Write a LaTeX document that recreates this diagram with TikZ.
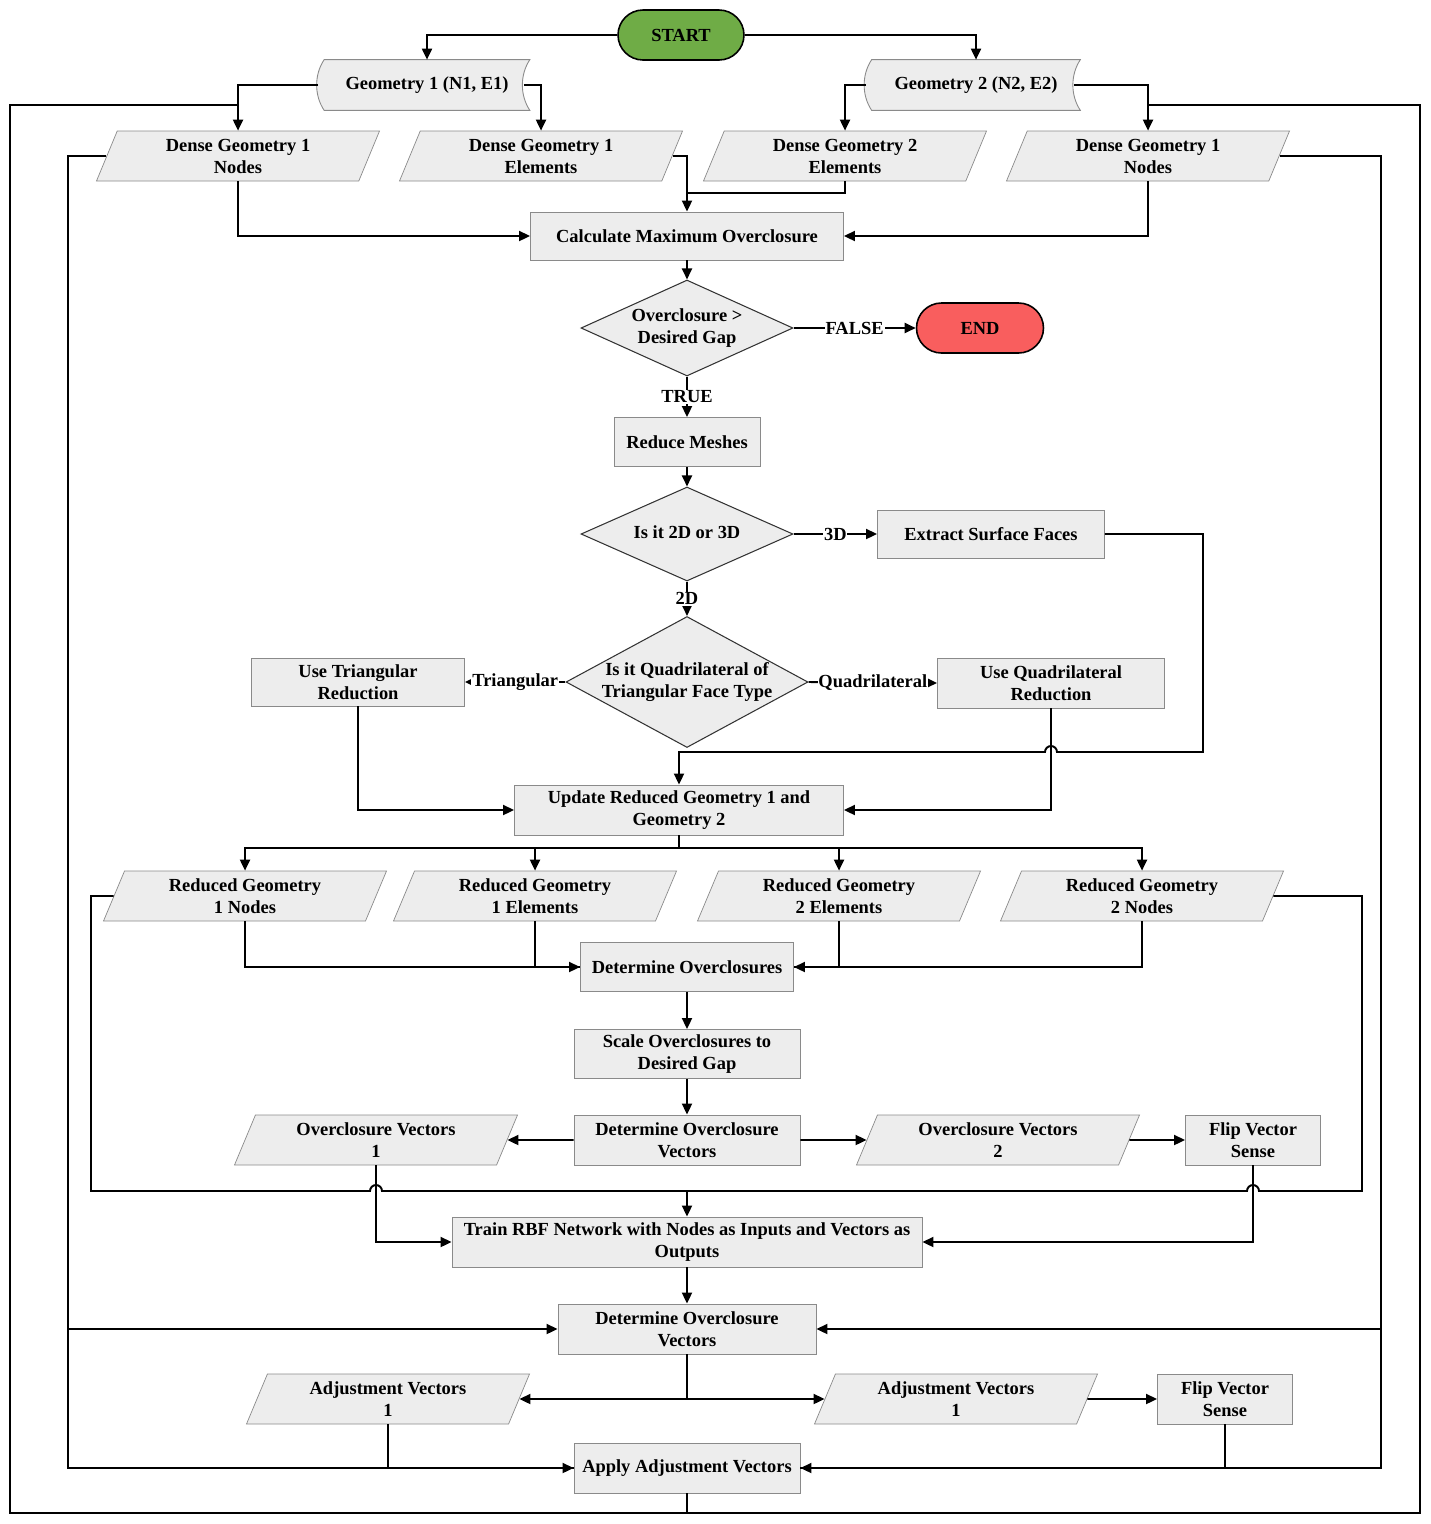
\documentclass[tikz,border=0pt]{standalone}
\usepackage{fontspec}
\setmainfont{Liberation Serif}
\usepackage{tikz}
\usetikzlibrary{shapes.geometric, shapes.misc, arrows.meta, calc, backgrounds}
\definecolor{boxfill}{HTML}{EDEDED}
\definecolor{boxline}{HTML}{8A8A8A}
\definecolor{go}{HTML}{6FAC46}
\definecolor{stop}{HTML}{F95E5E}
\newcommand{\dtext}[1]{\makebox[0pt]{\begin{tabular}{@{}c@{}}#1\end{tabular}}}
\tikzset{
  lbl/.style    = {align=center, font=\fontsize{10.5}{12.5}\selectfont\bfseries, inner sep=2pt},
  box/.style    = {lbl, rectangle, draw=boxline, line width=0.5pt, fill=boxfill, minimum height=10mm},
  data/.style   = {lbl, trapezium, trapezium left angle=63.4, trapezium right angle=116.6,
                   trapezium stretches body, draw=boxline, line width=0.4pt, fill=boxfill,
                   minimum width=56.6mm, minimum height=10mm},
  store/.style  = {lbl, rectangle, minimum height=10mm},
  decide/.style = {lbl, diamond, draw=black!80, line width=0.6pt, fill=boxfill, inner sep=0pt},
  term/.style   = {lbl, rounded rectangle, draw=black, line width=0.9pt, minimum width=26.6mm, minimum height=10mm},
  flow/.style   = {-{Triangle[length=2.2mm,width=2mm]}, line width=1.1pt},
  wire/.style   = {line width=1.1pt},
  tag/.style    = {lbl, fill=white, inner sep=0.5pt},
}

\begin{document}
\begin{tikzpicture}[x=0.2mm, y=-0.2mm]
  \useasboundingbox (0,0) rectangle (1430,1524);

  \node[term, fill=go] (start) at (681,35) {START};
  \node[store, minimum width=41mm] (g1) at (427,85) {Geometry 1 (N1, E1)};
  \node[store, minimum width=41.6mm] (g2) at (976,85) {Geometry 2 (N2, E2)};
  \node[data] (dg1n) at (238,156) {Dense Geometry 1\\Nodes};
  \node[data] (dg1e) at (541,156) {Dense Geometry 1\\Elements};
  \node[data] (dg2e) at (845,156) {Dense Geometry 2\\Elements};
  \node[data] (dg1nr) at (1148,156) {Dense Geometry 1\\Nodes};
  \node[box, minimum width=62.6mm, minimum height=9.6mm] (maxov) at (687,236) {Calculate Maximum Overclosure};
  \node[decide, minimum width=42.4mm, minimum height=19.2mm] (gap) at (687,328) {\dtext{Overclosure >\\Desired Gap}};
  \node[term, fill=stop, minimum width=26.8mm] (finish) at (980,328) {END};
  \node[box, minimum width=29.2mm, minimum height=9.8mm] (mesh) at (687,442) {Reduce Meshes};
  \node[decide, minimum width=42.4mm, minimum height=18.8mm] (dim) at (687,534) {\dtext{Is it 2D or 3D}};
  \node[box, minimum width=45.4mm, minimum height=9.6mm] (surf) at (991,534) {Extract Surface Faces};
  \node[decide, minimum width=48.4mm, minimum height=26.2mm] (face) at (687,682) {\dtext{Is it Quadrilateral of\\Triangular Face Type}};
  \node[box, minimum width=42.6mm, minimum height=9.6mm] (tri) at (358,682) {Use Triangular\\Reduction};
  \node[box, minimum width=45.4mm] (quad) at (1051,683) {Use Quadrilateral\\Reduction};
  \node[box, minimum width=65.8mm] (upd) at (679,810) {Update Reduced Geometry 1 and\\Geometry 2};
  \node[data] (r1n) at (245,896) {Reduced Geometry\\1 Nodes};
  \node[data] (r1e) at (535,896) {Reduced Geometry\\1 Elements};
  \node[data] (r2e) at (839,896) {Reduced Geometry\\2 Elements};
  \node[data] (r2n) at (1142,896) {Reduced Geometry\\2 Nodes};
  \node[box, minimum width=42.6mm, minimum height=9.8mm] (det) at (687,967) {Determine Overclosures};
  \node[box, minimum width=45.2mm, minimum height=9.8mm] (scl) at (687,1054) {Scale Overclosures to\\Desired Gap};
  \node[box, minimum width=45.2mm] (ovec) at (687,1140) {Determine Overclosure\\Vectors};
  \node[data] (ov1) at (376,1140) {Overclosure Vectors\\1};
  \node[data] (ov2) at (998,1140) {Overclosure Vectors\\2};
  \node[box, minimum width=27mm] (flip1) at (1253,1140) {Flip Vector\\Sense};
  \node[box, minimum width=94mm] (train) at (687,1242) {Train RBF Network with Nodes as Inputs and Vectors as\\Outputs};
  \node[box, minimum width=51.6mm] (ovec2) at (687,1329) {Determine Overclosure\\Vectors};
  \node[data] (adj1) at (388,1399) {Adjustment Vectors\\1};
  \node[data] (adj2) at (956,1399) {Adjustment Vectors\\1};
  \node[box, minimum width=27mm] (flip2) at (1225,1399) {Flip Vector\\Sense};
  \node[box, minimum width=45.2mm] (apply) at (687,1468) {Apply Adjustment Vectors};

  \begin{scope}[on background layer]
    \foreach \g in {g1,g2}
      \draw[draw=boxline, fill=boxfill, line width=0.5pt]
        (\g.north west) .. controls +(-2mm,-3mm) and +(-2mm,3mm) .. (\g.south west)
        -- (\g.south east) .. controls +(-2mm,3mm) and +(-2mm,-3mm) .. (\g.north east) -- cycle;
  \end{scope}

  \coordinate (oTL) at (10,105);
  \coordinate (oTR) at (1420,105);
  \coordinate (oBL) at (10,1513);
  \coordinate (oBR) at (1420,1513);
  \coordinate (lA) at (68,1468);
  \coordinate (rA) at (1381,1468);
  \coordinate (cL) at (91,1191);
  \coordinate (cR) at (1362,1191);
  \coordinate (sB) at (1203,752);
  \coordinate (bus) at ($(upd.south)+(0,13)$);
  \coordinate (split) at (ovec2.south |- adj1.east);

  \draw[flow] (start.west) -| (g1.north);
  \draw[flow] (start.east) -| (g2.north);
  \draw[flow] ($(g1.west)+(-6,0)$) -| (dg1n.north);
  \draw[flow] ($(g1.east)+(-6,0)$) -| (dg1e.north);
  \draw[flow] ($(g2.west)+(-6,0)$) -| (dg2e.north);
  \draw[flow] ($(g2.east)+(-6,0)$) -| (dg1nr.north);

  \draw[flow] (dg1n.south) |- (maxov.west);
  \draw[flow] (dg1e.east) -| (maxov.north);
  \draw[wire] (dg2e.south) |- ($(maxov.north)+(0,-19)$);
  \draw[flow] (dg1nr.south) |- (maxov.east);

  \draw[flow] (maxov.south) -- (gap.north);
  \draw[flow] (gap.east) -- node[tag] {FALSE} (finish.west);
  \draw[flow] (gap.south) -- node[tag] {TRUE} (mesh.north);
  \draw[flow] (mesh.south) -- (dim.north);
  \draw[flow] (dim.east) -- node[tag] {3D} (surf.west);
  \draw[flow] (dim.south) -- node[tag] {2D} (face.north);
  \draw[flow] (face.west) -- node[tag] {Triangular} (tri.east);
  \draw[flow] (face.east) -- node[tag] {Quadrilateral} (quad.west);

  \draw[flow] (surf.east) -| (sB) -- ($(quad.south |- sB)+(6,0)$)
    arc[start angle=0, end angle=180, radius=1.2mm] -- (upd.north |- sB) -- (upd.north);
  \draw[flow] (tri.south) |- (upd.west);
  \draw[flow] (quad.south) |- (upd.east);

  \draw[wire] (upd.south) -- (bus);
  \foreach \n in {r1n,r1e,r2e,r2n}
    \draw[flow] (bus) -| (\n.north);

  \draw[flow] (r1n.south) |- (det.west);
  \draw[wire] (r1e.south) |- (det.west);
  \draw[flow] (r2n.south) |- (det.east);
  \draw[wire] (r2e.south) |- (det.east);
  \draw[flow] (det.south) -- (scl.north);
  \draw[flow] (scl.south) -- (ovec.north);
  \draw[flow] (ovec.west) -- (ov1.east);
  \draw[flow] (ovec.east) -- (ov2.west);
  \draw[flow] (ov2.east) -- (flip1.west);

  \draw[wire] (r1n.west) -| (cL) -- ($(ov1.south |- cL)+(-6,0)$)
    arc[start angle=180, end angle=0, radius=1.2mm] -- ($(flip1.south |- cL)+(-6,0)$)
    arc[start angle=180, end angle=0, radius=1.2mm] -- (cR) |- (r2n.east);
  \draw[flow] (cL -| train.north) -- (train.north);
  \draw[flow] (ov1.south) |- (train.west);
  \draw[flow] (flip1.south) |- (train.east);

  \draw[flow] (train.south) -- (ovec2.north);
  \draw[wire] (ovec2.south) -- (split);
  \draw[flow] (split) -- (adj1.east);
  \draw[flow] (split) -- (adj2.west);
  \draw[flow] (adj2.east) -- (flip2.west);
  \draw[wire] (adj1.south) |- (apply.west);
  \draw[wire] (flip2.south) |- (apply.east);

  \draw[flow] (dg1n.west) -| (lA) -- (apply.west);
  \draw[flow] (lA |- ovec2.west) -- (ovec2.west);
  \draw[flow] (dg1nr.east) -| (rA) -- (apply.east);
  \draw[flow] (rA |- ovec2.east) -- (ovec2.east);

  \draw[wire] (apply.south) |- (oBL) |- (dg1n.north |- oTL);
  \draw[wire] (apply.south) |- (oBR) |- (dg1nr.north |- oTR);
\end{tikzpicture}
\end{document}
